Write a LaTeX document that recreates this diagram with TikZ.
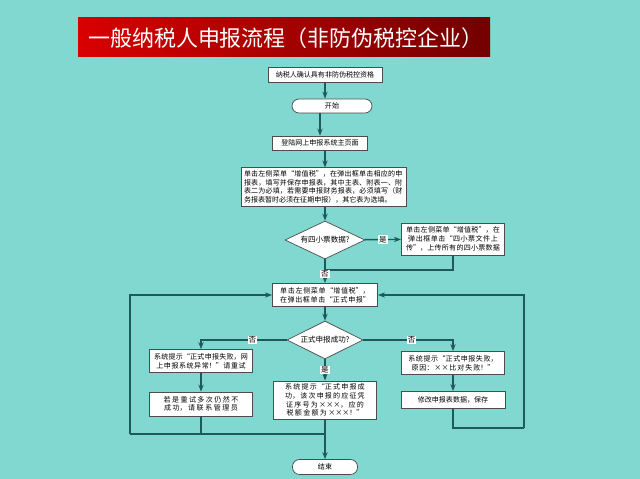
\documentclass[tikz,border=0pt]{standalone}
\usepackage{fontspec}
\setmainfont{Noto Sans CJK SC}
\XeTeXlinebreaklocale "zh"
\XeTeXlinebreakskip=0pt plus 1pt
\usetikzlibrary{shapes.geometric,arrows.meta}
\definecolor{bg}{HTML}{80D8D0}
\definecolor{ln}{HTML}{1F5A5A}
\tikzset{x=0.02cm,y=-0.02cm,
 box/.style={draw=black!70,fill=white,inner sep=1.5pt,font=\fontsize{4}{5}\selectfont,align=center},
 rnd/.style={box,rounded corners=4pt},
 dia/.style={draw=black!70,fill=white,diamond,aspect=2.1,inner sep=0pt,font=\fontsize{4.3}{5}\selectfont},
 ar/.style={draw=ln,line width=0.8pt,-{Stealth[length=4pt]}},
 li/.style={draw=ln,line width=0.8pt},
 lb/.style={fill=white,inner sep=0.5pt,font=\fontsize{4.3}{5}\selectfont}}
\begin{document}
\begin{tikzpicture}
\fill[bg] (0,0) rectangle (640,479);
\useasboundingbox (0,0) rectangle (640,479);
\shade[left color=red!85!black,right color=red!45!black] (78,18) rectangle (490,57);
\node[text=white,font=\fontsize{12.5}{14}\selectfont,anchor=west] (title) at (82,38) {一般纳税人申报流程（非防伪税控企业）};
\node[box,minimum width=114*0.02cm,minimum height=15*0.02cm] (b1) at (325,75) {纳税人确认具有非防伪税控资格};
\node[rnd,minimum width=80*0.02cm,minimum height=14*0.02cm] (st) at (332,106) {开始};
\node[box,minimum width=95*0.02cm,minimum height=14*0.02cm] (b2) at (320,143) {登陆网上申报系统主页面};
\node[box,text width=160*0.02cm,align=left] (b3) at (324,187) {单击左侧菜单“增值税”，在弹出框单击相应的申报表，填写并保存申报表，其中主表、附表一、附表二为必填，若需要申报财务报表，必须填写（财务报表暂时必须在征期申报），其它表为选填。};
\node[dia,minimum width=80*0.02cm,minimum height=38*0.02cm] (d1) at (325,240) {有四小票数据?};
\node[box,text width=98*0.02cm,minimum height=32*0.02cm] (rb) at (453,239) {单击左侧菜单“增值税”，在弹出框单击“四小票文件上传”，上传所有的四小票数据};
\node[box,text width=100*0.02cm,minimum height=23*0.02cm] (b4) at (325,295) {单击左侧菜单“增值税”，在弹出框单击“正式申报”};
\node[dia,minimum width=76*0.02cm,minimum height=38*0.02cm] (d2) at (325,340) {正式申报成功?};
\node[box,text width=98*0.02cm,minimum height=23*0.02cm] (l1) at (201,361) {系统提示“正式申报失败，网上申报系统异常！”请重试};
\node[box,text width=98*0.02cm,minimum height=24*0.02cm] (l2) at (201,404) {若是重试多次仍然不成功，请联系管理员};
\node[box,text width=98*0.02cm,minimum height=31*0.02cm] (m) at (325,400) {系统提示“正式申报成功，该次申报的应征凭证序号为×××，应的税额金额为×××！”};
\node[box,text width=98*0.02cm,minimum height=23*0.02cm] (r1) at (453,363) {系统提示“正式申报失败，原因：××比对失败！”};
\node[box,minimum width=104*0.02cm,minimum height=17*0.02cm] (r2) at (453,400) {修改申报表数据，保存};
\node[rnd,minimum width=65*0.02cm,minimum height=15*0.02cm] (en) at (325,467) {结束};
\coordinate (cy) at (325,270);
\coordinate (jl) at (130,434);
\coordinate (jr) at (524,428);
\draw[ar] (b1) -- (b1|-st.north);
\draw[ar] (st.south-|b2) -- (b2);
\draw[ar] (b2.south-|d1) -- (b3.north-|d1);
\draw[ar] (b3.south-|d1) -- (d1);
\draw[ar] (d1) -- node[lb]{是} (rb);
\draw[li] (rb.south) |- (cy);
\draw[ar] (d1) -- node[lb,pos=0.62]{否} (b4);
\draw[ar] (b4) -- (d2);
\draw[ar] (d2.west) -| node[lb,pos=0.2]{否} (l1.north);
\draw[ar] (l1) -- (l2);
\draw[ar] (d2.east) -| node[lb,pos=0.27]{否} (r1.north);
\draw[ar] (r1) -- (r2);
\draw[ar] (d2) -- node[lb]{是} (m);
\draw[ar] (m) -- (en);
\draw[li] (l2.south) -- (l2.south|-jl);
\draw[li] (325,434) -- (jl);
\draw[ar] (jl) |- (b4.west);
\draw[li] (r2.south) |- (jr);
\draw[ar] (jr) |- (b4.east);
\end{tikzpicture}
\end{document}
